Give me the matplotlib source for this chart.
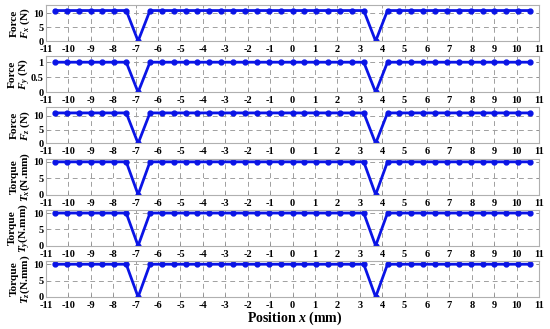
import matplotlib
matplotlib.use("Agg")
import matplotlib.pyplot as plt

plt.rcParams['font.family'] = ['Liberation Serif', 'DejaVu Serif']
plt.rcParams['font.weight'] = 'bold'
plt.rcParams['mathtext.fontset'] = 'custom'
plt.rcParams['mathtext.rm'] = 'Liberation Serif:bold'
plt.rcParams['mathtext.it'] = 'Liberation Serif:bold:italic'

positions = [-10.6, -10.07, -9.54, -9.01, -8.48, -7.95, -7.42, -6.89, -6.36, -5.83,
             -5.3, -4.77, -4.24, -3.71, -3.18, -2.65, -2.12, -1.59, -1.06, -0.53,
             0.0, 0.53, 1.06, 1.59, 2.12, 2.65, 3.18, 3.71, 4.24, 4.77,
             5.3, 5.83, 6.36, 6.89, 7.42, 7.95, 8.48, 9.01, 9.54, 10.07, 10.6]

fx = [11, 11, 11, 11, 11, 11, 11, 0, 11, 11, 11, 11, 11, 11, 11, 11, 11, 11, 11, 11,
      11, 11, 11, 11, 11, 11, 11, 0, 11, 11, 11, 11, 11, 11, 11, 11, 11, 11, 11, 11, 11]
fy = [1, 1, 1, 1, 1, 1, 1, 0, 1, 1, 1, 1, 1, 1, 1, 1, 1, 1, 1, 1,
      1, 1, 1, 1, 1, 1, 1, 0, 1, 1, 1, 1, 1, 1, 1, 1, 1, 1, 1, 1, 1]
fz = [11, 11, 11, 11, 11, 11, 11, 0, 11, 11, 11, 11, 11, 11, 11, 11, 11, 11, 11, 11,
      11, 11, 11, 11, 11, 11, 11, 0, 11, 11, 11, 11, 11, 11, 11, 11, 11, 11, 11, 11, 11]
tx = [10, 10, 10, 10, 10, 10, 10, 0, 10, 10, 10, 10, 10, 10, 10, 10, 10, 10, 10, 10,
      10, 10, 10, 10, 10, 10, 10, 0, 10, 10, 10, 10, 10, 10, 10, 10, 10, 10, 10, 10, 10]
ty = [10, 10, 10, 10, 10, 10, 10, 0, 10, 10, 10, 10, 10, 10, 10, 10, 10, 10, 10, 10,
      10, 10, 10, 10, 10, 10, 10, 0, 10, 10, 10, 10, 10, 10, 10, 10, 10, 10, 10, 10, 10]
tz = [10, 10, 10, 10, 10, 10, 10, 0, 10, 10, 10, 10, 10, 10, 10, 10, 10, 10, 10, 10,
      10, 10, 10, 10, 10, 10, 10, 0, 10, 10, 10, 10, 10, 10, 10, 10, 10, 10, 10, 10, 10]

series = [fx, fy, fz, tx, ty, tz]
ylabels = ["Force\n$F_x$ (N)", "Force\n$F_y$ (N)", "Force\n$F_z$ (N)",
           "Torque\n$T_x$(N.mm)", "Torque\n$T_y$(N.mm)", "Torque\n$T_z$(N.mm)"]
yticks = [[0, 5, 10], [0, 0.5, 1], [0, 5, 10], [0, 5, 10], [0, 5, 10], [0, 5, 10]]
yticklabels = [["0", "5", "10"], ["0", "0.5", "1"], ["0", "5", "10"],
               ["0", "5", "10"], ["0", "5", "10"], ["0", "5", "10"]]
ylims = [13, 1.2, 13, 11, 11, 11]
xticks = list(range(-11, 12))

fig = plt.figure(figsize=(5.5, 3.29), dpi=100)
gs = fig.add_gridspec(6, 1, left=46/550, right=539/550, top=1-5/329, bottom=1-297/329,
                      hspace=0.42)
blue = '#0a14e6'
for i in range(6):
    ax = fig.add_subplot(gs[i, 0])
    ax.plot(positions, series[i], color=blue, lw=2.0, marker='o', ms=3.5,
            markerfacecolor=blue, markeredgecolor=blue)
    ax.set_xlim(-11, 11)
    ax.set_ylim(0, ylims[i])
    ax.set_xticks(xticks)
    ax.set_xticklabels([str(t) for t in xticks], fontsize=7.5, fontweight='bold')
    ax.set_yticks(yticks[i])
    ax.set_yticklabels(yticklabels[i], fontsize=7.5, fontweight='bold')
    ax.grid(True, linestyle=(0, (5, 4)), color='#a0a0a0', lw=0.7)
    for s in ax.spines.values():
        s.set_color('#b0b0b0')
        s.set_linewidth(0.8)
    ax.tick_params(direction='in', length=2, width=0.6, color='#909090', pad=1.5,
                   top=True, right=True)
    ax.tick_params(axis='x', pad=2.8)
    ax.set_ylabel(ylabels[i], fontsize=8.2, fontweight='bold', labelpad=1, linespacing=0.95)
    ax.yaxis.set_label_coords(-0.028, 0.5)

fig.text(0.535, 1-318/329, "Position $x$ (mm)", ha='center', va='center',
         fontsize=10, fontweight='bold')
fig.savefig("out.png", dpi=100)
